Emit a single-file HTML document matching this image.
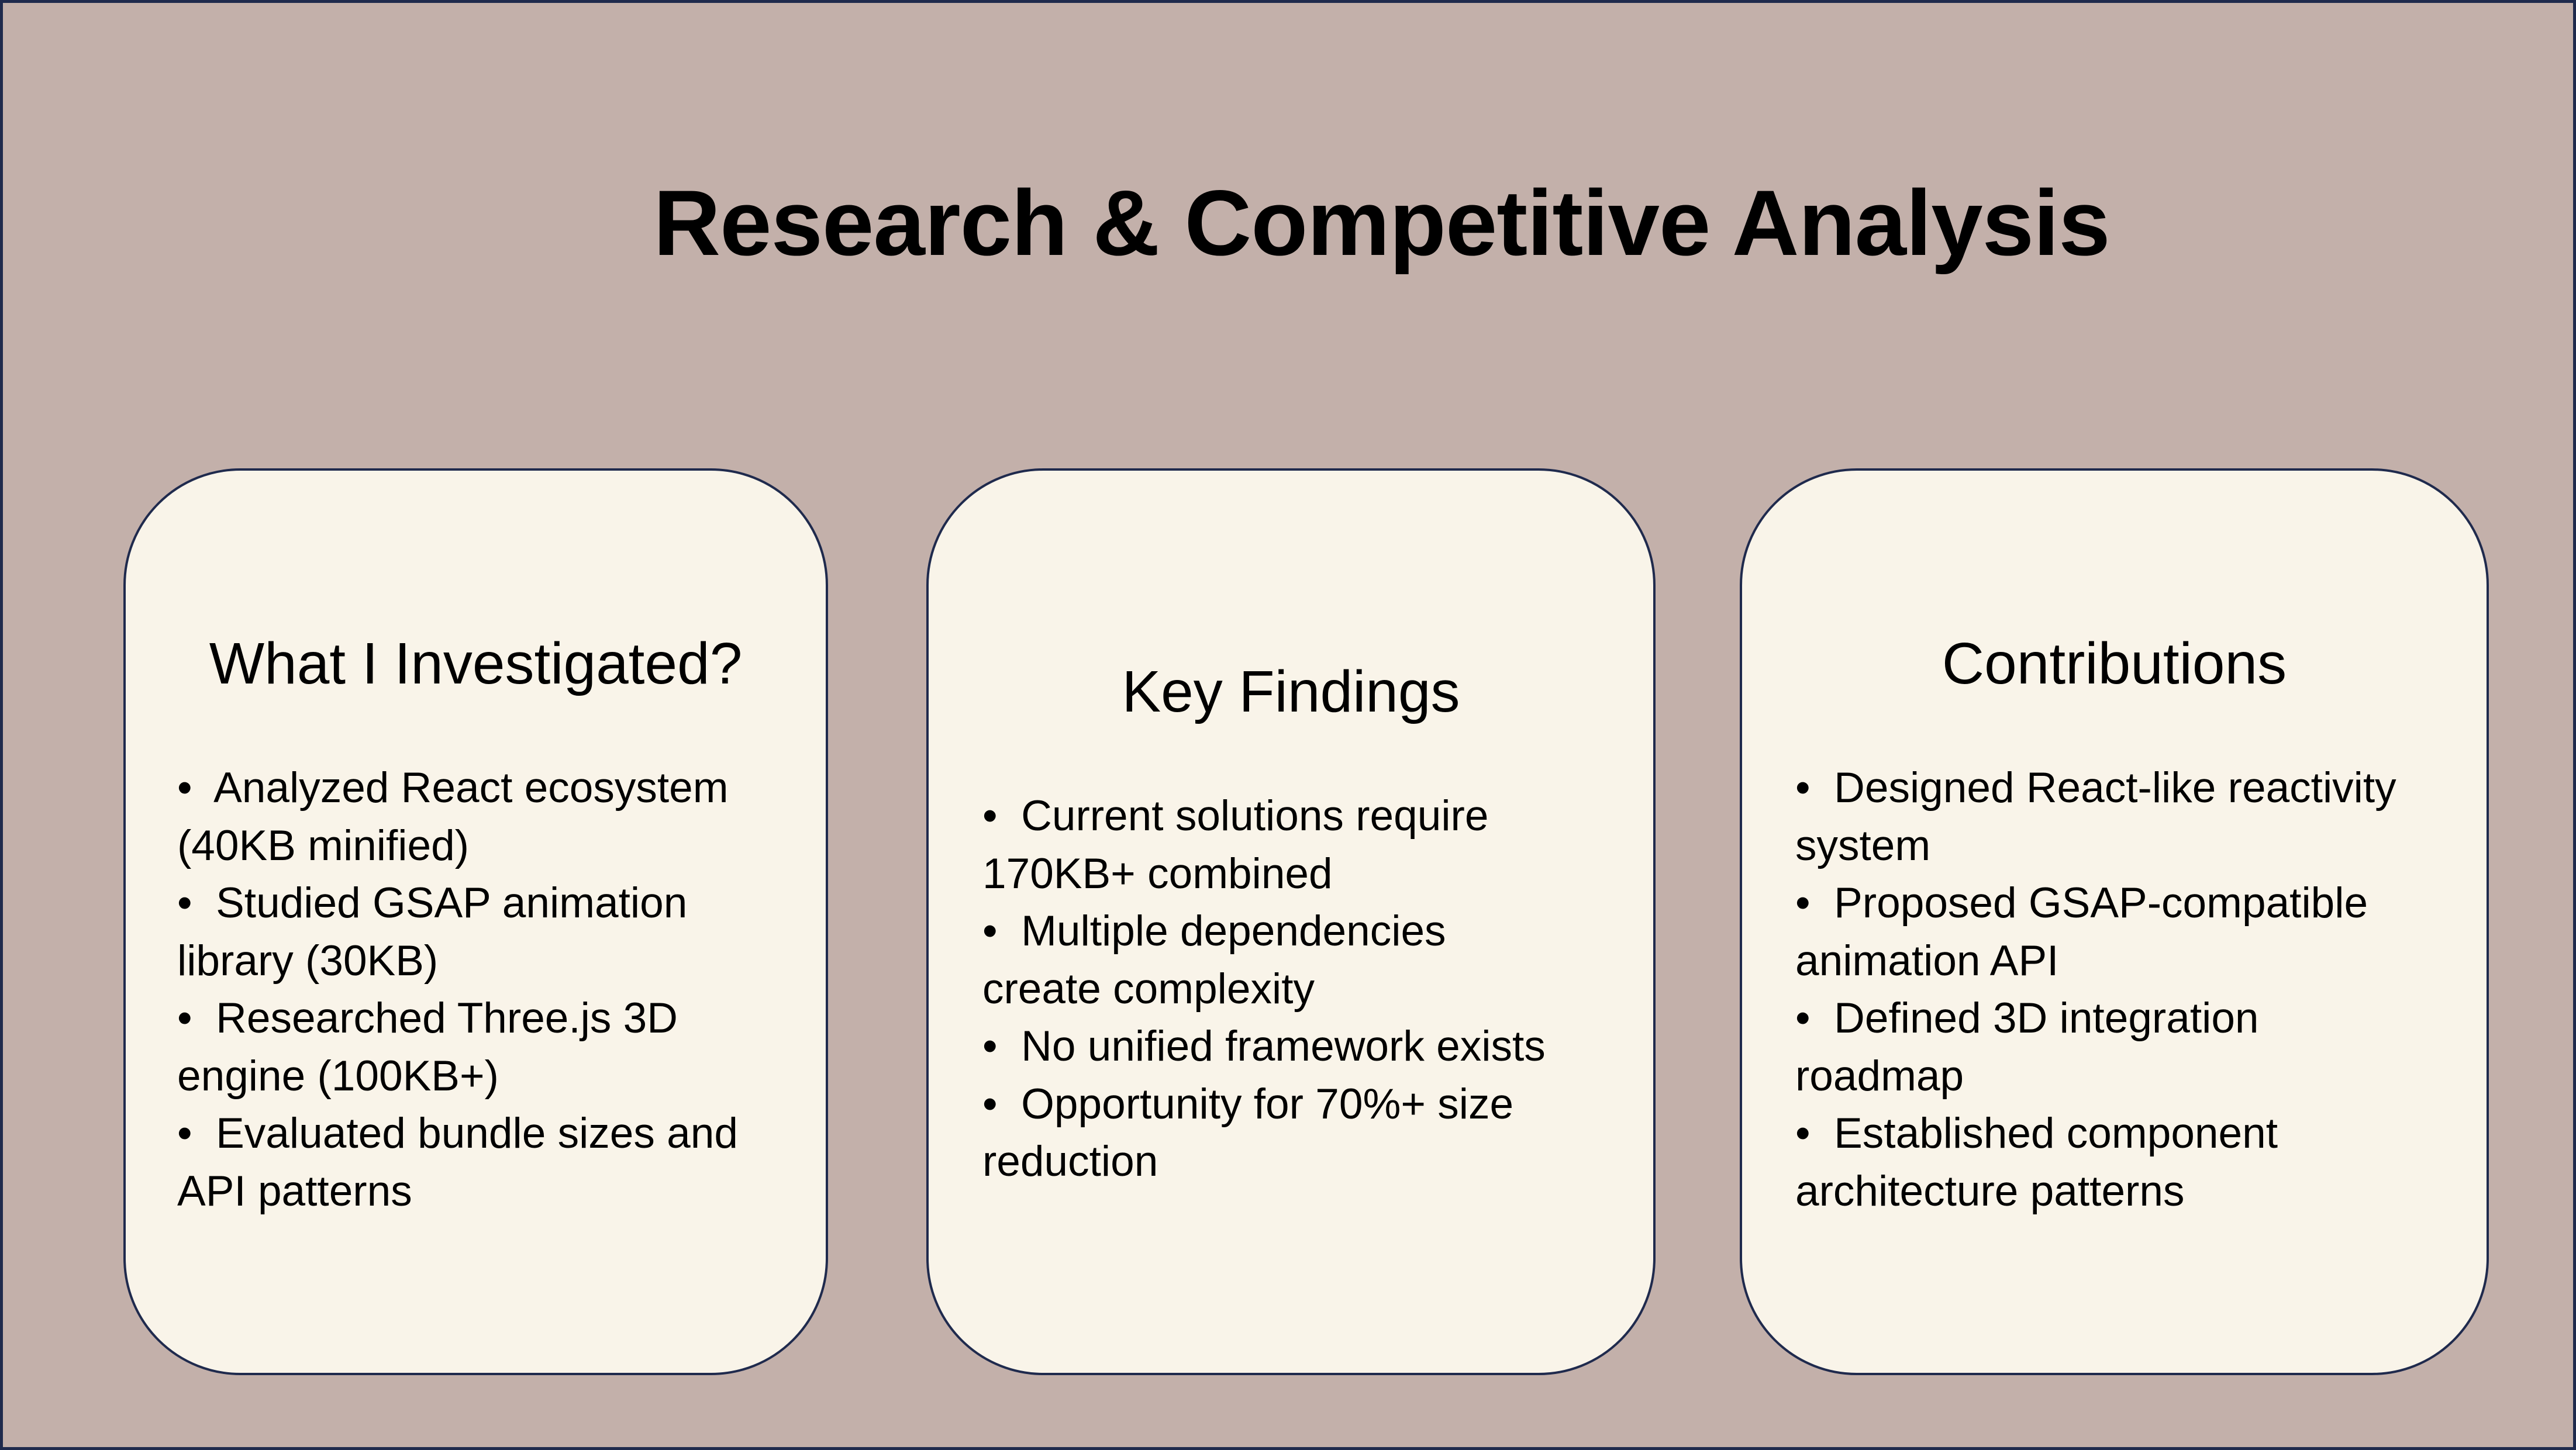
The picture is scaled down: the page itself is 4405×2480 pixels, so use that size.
<!DOCTYPE html>
<html>
<head>
<meta charset="utf-8">
<style>
  html,body{margin:0;padding:0;}
  body{width:4405px;height:2480px;position:relative;overflow:hidden;background:#c3b0aa;font-family:"Liberation Sans",sans-serif;color:#000;}
  .frame{position:absolute;left:0;top:0;width:4405px;height:2480px;box-sizing:border-box;border:5px solid #1f2a4d;}
  .title{position:absolute;left:160px;width:4405px;top:286px;text-align:center;font-weight:bold;font-size:159px;line-height:190px;white-space:nowrap;letter-spacing:-1px;}
  .card{position:absolute;top:801px;height:1551px;background:#f9f4e9;border:4px solid #1f2a4d;border-radius:200px;box-sizing:border-box;}
  .head{position:absolute;text-align:center;font-size:100px;line-height:120px;white-space:nowrap;}
  .list{position:absolute;font-size:73px;line-height:98.5px;white-space:nowrap;}
</style>
</head>
<body>
<div class="frame"></div>
<div class="title">Research &amp; Competitive Analysis</div>

<div class="card" style="left:211px;width:1205px;"></div>
<div class="head" style="left:211px;width:1205px;top:1075px;">What I Investigated?</div>
<div class="list" style="left:303px;top:1299px;">•&nbsp; Analyzed React ecosystem<br>(40KB minified)<br>•&nbsp; Studied GSAP animation<br>library (30KB)<br>•&nbsp; Researched Three.js 3D<br>engine (100KB+)<br>•&nbsp; Evaluated bundle sizes and<br>API patterns</div>

<div class="card" style="left:1584px;width:1247px;"></div>
<div class="head" style="left:1584px;width:1247px;top:1123px;">Key Findings</div>
<div class="list" style="left:1680px;top:1347px;">•&nbsp; Current solutions require<br>170KB+ combined<br>•&nbsp; Multiple dependencies<br>create complexity<br>•&nbsp; No unified framework exists<br>•&nbsp; Opportunity for 70%+ size<br>reduction</div>

<div class="card" style="left:2975px;width:1281px;"></div>
<div class="head" style="left:2975px;width:1281px;top:1075px;">Contributions</div>
<div class="list" style="left:3070px;top:1299px;">•&nbsp; Designed React-like reactivity<br>system<br>•&nbsp; Proposed GSAP-compatible<br>animation API<br>•&nbsp; Defined 3D integration<br>roadmap<br>•&nbsp; Established component<br>architecture patterns</div>
</body>
</html>
